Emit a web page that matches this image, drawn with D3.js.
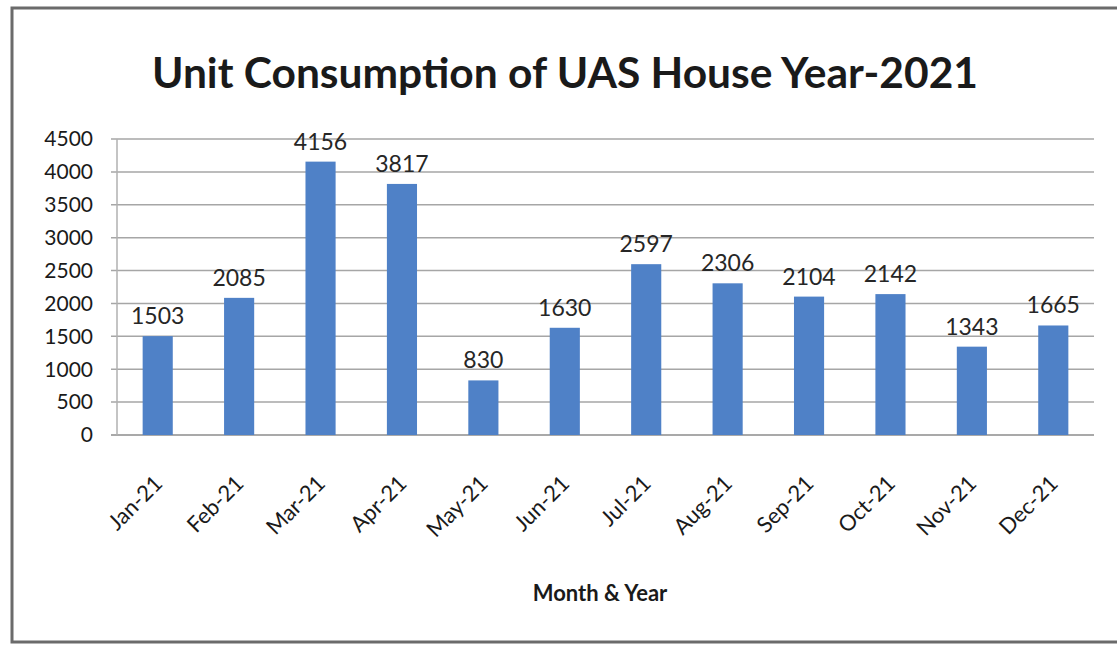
<!DOCTYPE html>
<html>
<head>
<meta charset="utf-8">
<script src="https://cdn.jsdelivr.net/npm/d3@7"></script>
<style>
  html, body { margin: 0; padding: 0; background: #fff; }
  svg { display: block; font-family: Lato, "Open Sans", sans-serif; }
</style>
</head>
<body>
<div id="chart"></div>
<script>
// data
const months = ["Jan-21", "Feb-21", "Mar-21", "Apr-21", "May-21", "Jun-21",
                "Jul-21", "Aug-21", "Sep-21", "Oct-21", "Nov-21", "Dec-21"];
const units = [1503, 2085, 4156, 3817, 830, 1630, 2597, 2306, 2104, 2142, 1343, 1665];
const yTicks = [0, 500, 1000, 1500, 2000, 2500, 3000, 3500, 4000, 4500];

const W = 1117, H = 646;
const margin = { top: 139, right: 23, bottom: 211, left: 117 };
const width = W - margin.left - margin.right;
const height = H - margin.top - margin.bottom;

const svg = d3.select("#chart").append("svg")
  .attr("width", W)
  .attr("height", H);

// outer frame
svg.append("rect")
  .attr("x", 12).attr("y", 8)
  .attr("width", W + 10).attr("height", 634)
  .attr("fill", "none")
  .attr("stroke", "#6b6b6b")
  .attr("stroke-width", 3);

// title
svg.append("text")
  .attr("x", 565).attr("y", 88)
  .attr("text-anchor", "middle")
  .attr("font-size", 42.5)
  .attr("font-weight", "bold")
  .attr("fill", "#1a1a1a")
  .text("Unit Consumption of UAS House Year-2021");

const g = svg.append("g")
  .attr("transform", `translate(${margin.left},${margin.top})`);

const x = d3.scaleBand()
  .domain(months)
  .range([0, width])
  .paddingInner(0.63)
  .paddingOuter(0.315);

const y = d3.scaleLinear()
  .domain([0, 4500])
  .range([height, 0]);

// gridlines
g.append("g")
  .selectAll("line")
  .data(yTicks)
  .join("line")
  .attr("x1", -6)
  .attr("x2", width)
  .attr("y1", d => y(d))
  .attr("y2", d => y(d))
  .attr("stroke", d => d === 0 ? "#8c8c8c" : "#a6a6a6")
  .attr("stroke-width", 1.5);

// y axis line
g.append("line")
  .attr("x1", 0).attr("x2", 0)
  .attr("y1", 0).attr("y2", height)
  .attr("stroke", "#b0b0b0")
  .attr("stroke-width", 1.5);

// y tick labels
g.append("g")
  .selectAll("text")
  .data(yTicks)
  .join("text")
  .attr("x", -24)
  .attr("y", d => y(d))
  .attr("dy", "0.35em")
  .attr("text-anchor", "end")
  .attr("font-size", 21)
  .attr("fill", "#1a1a1a")
  .text(d => d);

// bars
g.append("g")
  .selectAll("rect")
  .data(units)
  .join("rect")
  .attr("x", (d, i) => x(months[i]))
  .attr("y", d => y(d))
  .attr("width", x.bandwidth())
  .attr("height", d => height - y(d))
  .attr("fill", "#4f81c7");

// value labels
g.append("g")
  .selectAll("text")
  .data(units)
  .join("text")
  .attr("x", (d, i) => x(months[i]) + x.bandwidth() / 2)
  .attr("y", d => y(d) - 12)
  .attr("text-anchor", "middle")
  .attr("font-size", 23)
  .attr("fill", "#262626")
  .text(d => d);

// x labels, rotated
g.append("g")
  .selectAll("text")
  .data(months)
  .join("text")
  .attr("transform", d => `translate(${x(d) + x.bandwidth() / 2 + 6},${height + 50}) rotate(-45)`)
  .attr("text-anchor", "end")
  .attr("font-size", 22)
  .attr("fill", "#1a1a1a")
  .text(d => d);

// x axis title
svg.append("text")
  .attr("x", 600).attr("y", 601)
  .attr("text-anchor", "middle")
  .attr("font-size", 22)
  .attr("font-weight", "bold")
  .attr("fill", "#1a1a1a")
  .text("Month & Year");
</script>
</body>
</html>
